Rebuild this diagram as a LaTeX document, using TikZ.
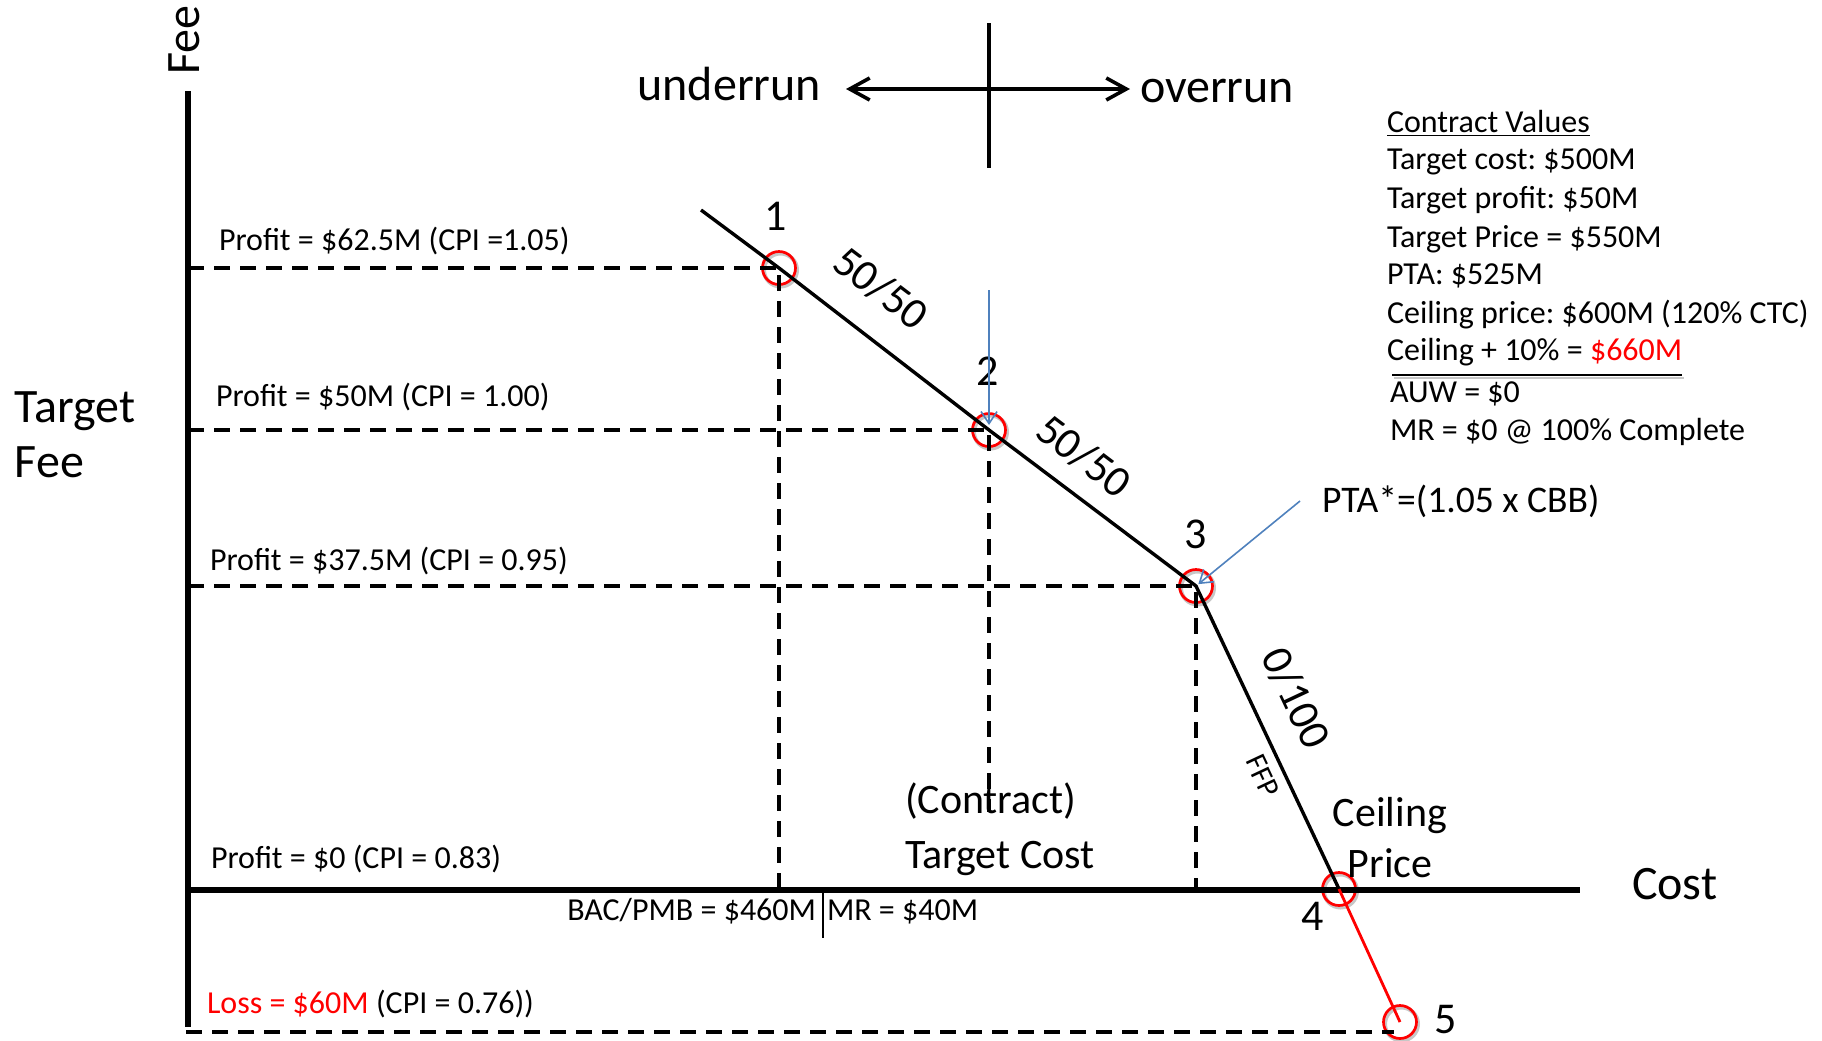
\documentclass[tikz,border=0pt]{standalone}
\usepackage{fontspec}
\setmainfont{Carlito}
\usetikzlibrary{arrows.meta}
\definecolor{ptblue}{HTML}{4F81BD}
\definecolor{ptred}{HTML}{FF0000}
\frenchspacing
\begin{document}
\begin{tikzpicture}[x=0.5pt,y=-0.5pt,
  every node/.style={inner sep=0pt, outer sep=0pt},
  axisline/.style={line width=2.9pt},
  costline/.style={line width=1.7pt},
  lossline/.style={line width=1.4pt, draw=ptred},
  guide/.style={line width=2pt, dash pattern=on 8pt off 5pt},
  ptcirc/.style={circle, draw=ptred, line width=1.35pt, minimum size=16.5pt},
  ptshadow/.style={draw=black!22, line width=2pt},
  runarrow/.style={line width=1.8pt, -{Straight Barb[length=10pt,width=11pt,line width=1.8pt]}},
  pointer/.style={draw=ptblue, line width=0.8pt, -{Straight Barb[length=6pt,width=8pt,line width=0.8pt]}},
  txtbig/.style={font=\fontsize{24}{28}\selectfont},
  txtaxis/.style={font=\fontsize{24}{28}\selectfont},
  txtmid/.style={font=\fontsize{21}{25}\selectfont},
  txtnum/.style={font=\fontsize{22}{26}\selectfont},
  txtinfo/.style={font=\fontsize{16}{19}\selectfont},
  txtsmall/.style={font=\fontsize{15}{18}\selectfont},
]
\useasboundingbox (0,0) rectangle (1822,1040);

% soft shadows of the point circles
\foreach \px/\py in {779/268, 989/430, 1196/586, 1339/889, 1400/1022}
  \draw[ptshadow] (\px+1.5,\py+2) circle[radius=8.25pt];

% points on the cost curve
\node[ptcirc] (c1) at (779,268) {};
\node[ptcirc] (c2) at (989,430) {};
\node[ptcirc] (c3) at (1196,586) {};
\node[ptcirc] (c4) at (1339,889) {};
\node[ptcirc] (c5) at (1400,1022) {};

% axes
\coordinate (ytop) at (188,91);
\coordinate (ybot) at (188,1027);
\coordinate (orig) at (188,890);
\coordinate (xend) at (1580,890);
\draw[axisline] (ytop) -- (ybot);
\draw[axisline] (orig) -- (xend);

% dashed guides
\coordinate (c2end) at (989,812);
\coordinate (lossL) at (186,1032);
\coordinate (lossR) at (1394,1032);
\draw[guide] (c1 -| orig) -- (c1.center) -- (c1 |- orig);
\draw[guide] (c2 -| orig) -- (c2.center) -- (c2end);
\draw[guide] (c3 -| orig) -- (c3.center) -- (c3 |- orig);
\draw[guide] (lossL) -- (lossR);

% cost curve
\coordinate (p0) at (701,210);
\draw[costline] (p0) -- (c1.center) -- (c2.center) -- (c3.center) -- (c4.center);
\draw[lossline] (c4.center) -- (c5.center);

% underrun / overrun
\coordinate (tc) at (989,89);
\coordinate (tl) at (846,89);
\coordinate (tr) at (1130,89);
\coordinate (tt) at (989,23);
\coordinate (tb) at (989,168);
\draw[runarrow] (tc) -- (tl);
\draw[runarrow] (tc) -- (tr);
\draw[line width=1.8pt] (tt) -- (tb);
\node[txtbig, anchor=base east] (under) at (821,100) {underrun};
\node[txtbig, anchor=base west] (over) at (1140,102) {overrun};

% axis labels
\node[txtaxis, rotate=90, anchor=base] (feelbl) at (199,40) {Fee};
\node[txtaxis, anchor=base west] (tf1) at (15,422) {Target};
\node[txtaxis, anchor=base west] (tf2) at (15,477) {Fee};
\node[txtaxis, anchor=base west] (costlbl) at (1632,899) {Cost};

% point numbers
\node[txtnum, anchor=base] (n1) at (776,230) {1};
\node[txtnum, anchor=base] (n2) at (988,385) {2};
\node[txtnum, anchor=base] (n3) at (1196,548) {3};
\node[txtnum, anchor=base] (n4) at (1313,930) {4};
\node[txtnum, anchor=base] (n5) at (1446,1033) {5};

% share ratio labels
\node[txtnum, rotate=-37.2] (r1) at (881,288) {50/50};
\node[txtnum, rotate=-37.2] (r2) at (1084,456) {50/50};
\node[txtnum, rotate=-64.8] (r3) at (1296,698) {0/100};
\node[txtsmall, rotate=-64.8] (ffp) at (1263,776) {FFP};

% ceiling / target cost
\node[txtmid, anchor=base] (ceil1) at (1390,826) {Ceiling};
\node[txtmid, anchor=base] (ceil2) at (1390,877) {Price};
\node[txtmid, anchor=base west] (tcost1) at (905,813) {(Contract)};
\node[txtmid, anchor=base west] (tcost2) at (905,868) {Target Cost};

% profit labels
\node[txtinfo, anchor=base west] (pr1) at (219,250) {Profit = \$62.5M (CPI =1.05)};
\node[txtinfo, anchor=base west] (pr2) at (216,406) {Profit = \$50M (CPI = 1.00)};
\node[txtinfo, anchor=base west] (pr3) at (210,570) {Profit = \$37.5M (CPI = 0.95)};
\node[txtinfo, anchor=base west] (pr4) at (211,868) {Profit = \$0 (CPI = 0.83)};
\node[txtinfo, anchor=base west] (pr5) at (207,1013) {\textcolor{ptred}{Loss = \$60M} (CPI = 0.76))};

% BAC / MR
\node[txtinfo, anchor=base east] (bac) at (816,920) {BAC/PMB = \$460M};
\node[txtinfo, anchor=base west] (mr) at (827,920) {MR = \$40M};
\coordinate (sepT) at (823,890);
\coordinate (sepB) at (823,938);
\draw[line width=0.6pt] (sepT) -- (sepB);

% blue pointers
\coordinate (bvS) at (989,290);
\draw[pointer, shorten >=2.5pt] (bvS) -- (c2.center);
\node[font=\fontsize{18.8}{22}\selectfont, anchor=base west] (pta) at (1322,512) {PTA*=(1.05 x CBB)};
\coordinate (ptaS) at (1300,501);
\draw[pointer, shorten >=1.5pt] (ptaS) -- (c3.center);

% contract values
\node[txtinfo, anchor=base west] (cv0) at (1387,132) {\underline{Contract Values}};
\node[txtinfo, anchor=base west] (cv1) at (1387,169) {Target cost: \$500M};
\node[txtinfo, anchor=base west] (cv2) at (1387,208) {Target profit: \$50M};
\node[txtinfo, anchor=base west] (cv3) at (1387,247) {Target Price = \$550M};
\node[txtinfo, anchor=base west] (cv4) at (1387,284) {PTA: \$525M};
\node[txtinfo, anchor=base west] (cv5) at (1387,323) {Ceiling price: \$600M (120\% CTC)};
\node[txtinfo, anchor=base west] (cv6) at (1387,360) {Ceiling + 10\% = \textcolor{ptred}{\$660M}};
\coordinate (ruleL) at (1392,375);
\coordinate (ruleR) at (1682,375);
\draw[gray!45, line width=1pt] ([shift={(2,3)}]ruleL) -- ([shift={(2,3)}]ruleR);
\draw[line width=0.6pt] (ruleL) -- (ruleR);
\node[txtinfo, anchor=base west] (cv7) at (1390,402) {AUW = \$0};
\node[txtinfo, anchor=base west] (cv8) at (1390,440) {MR = \$0 @ 100\% Complete};
\end{tikzpicture}
\end{document}
